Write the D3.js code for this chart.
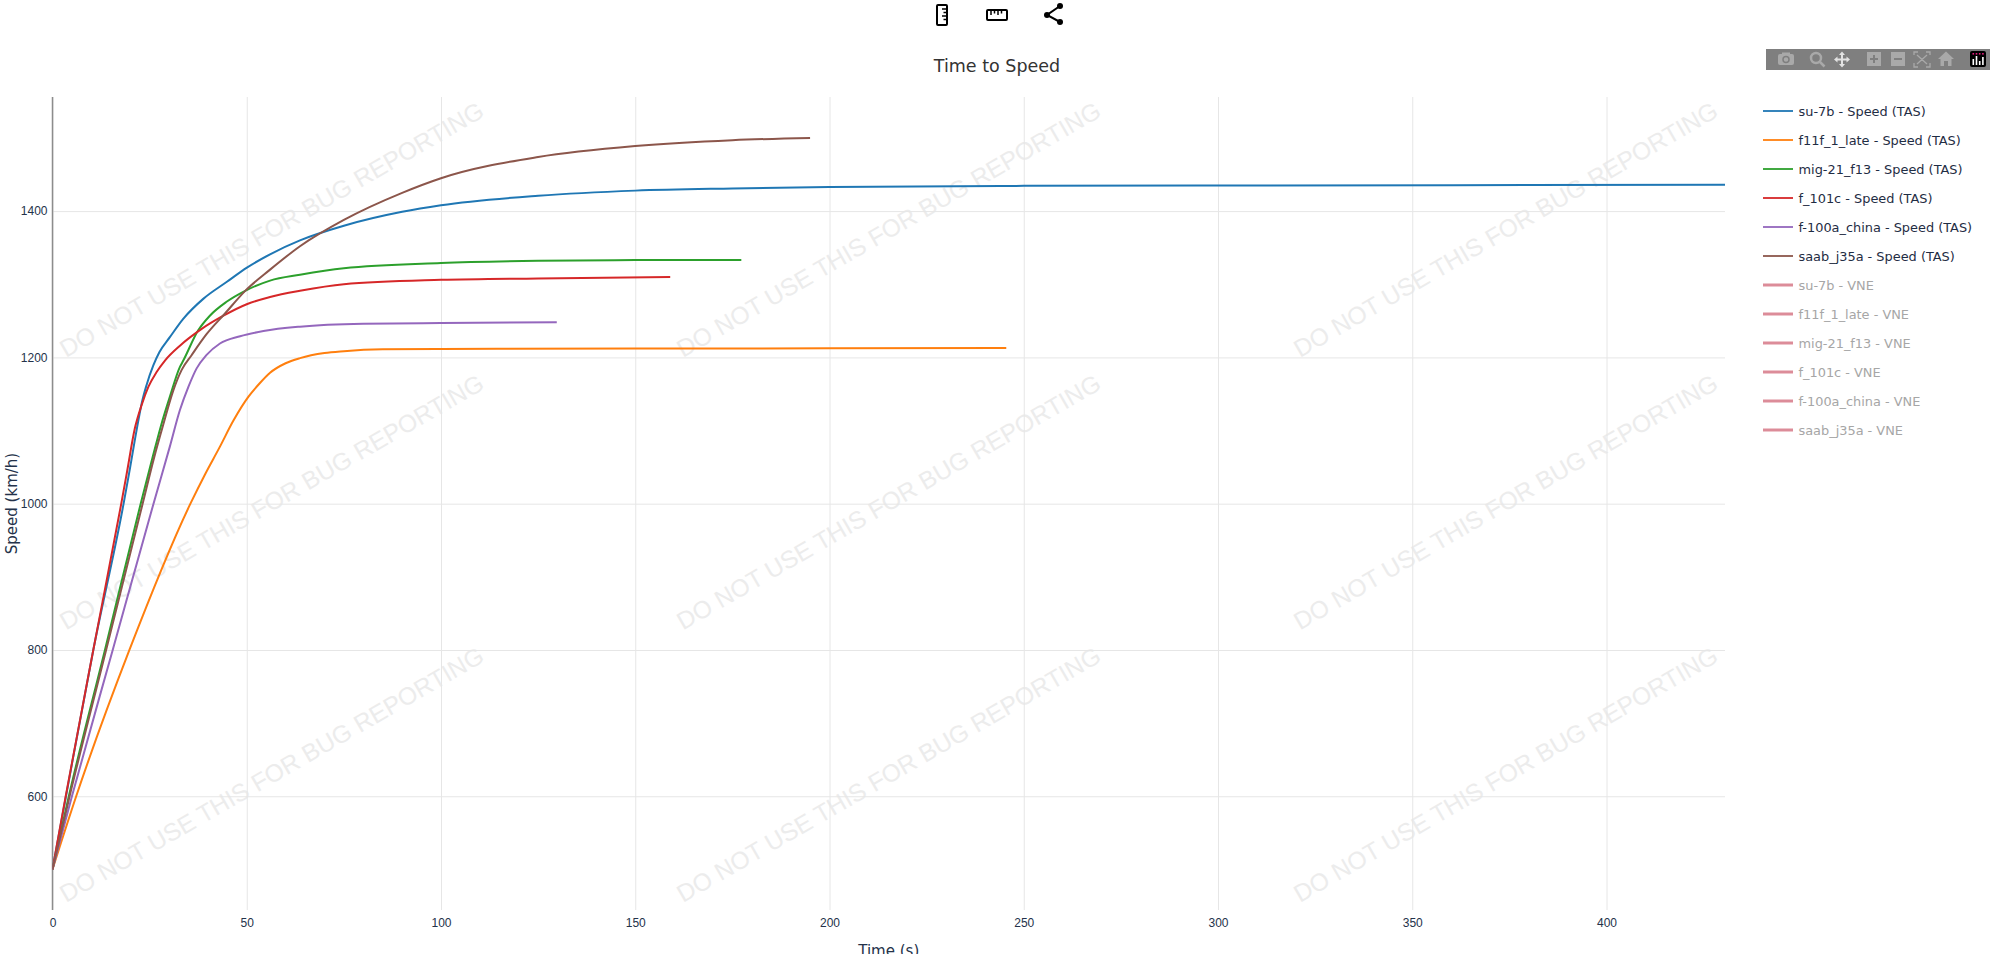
<!DOCTYPE html>
<html>
<head>
<meta charset="utf-8">
<title>Time to Speed</title>
<script src="https://cdn.jsdelivr.net/npm/d3@7/dist/d3.min.js"></script>
<style>
  html, body { margin: 0; padding: 0; background: #fff; overflow: hidden; }
  svg { display: block; font-family: "DejaVu Sans", Verdana, sans-serif; }
</style>
</head>
<body>
<div id="canvas"></div>
<script>
/*
 * Time to speed chart
 */

var xTicks = [0, 50, 100, 150, 200, 250, 300, 350, 400];
var yTicks = [600, 800, 1000, 1200, 1400];

var su7bTime  = [0, 3.4, 10.5, 18.3, 19.7, 21.8, 22.95, 24.2, 25.95, 27.5, 30.25, 33.7, 38.8, 44.8, 50.15, 56, 63.7, 75, 90, 100, 125, 150, 175, 200, 250, 300, 430.5];
var su7bSpeed = [500, 598, 800, 1000, 1041, 1105, 1137, 1162, 1189, 1207, 1228, 1253, 1280, 1303, 1323, 1341, 1360, 1380, 1399, 1408, 1421, 1428, 1431, 1433, 1434.5, 1435, 1436];

var f11fTime  = [0, 6.1, 19.8, 35.5, 39.25, 43.1, 46.5, 50.4, 53.4, 56, 60, 63.7, 70, 75, 85, 100, 150, 200, 245.5];
var f11fSpeed = [500, 600, 800, 1000, 1040, 1078, 1113, 1146, 1165, 1179, 1192, 1199, 1206, 1208.5, 1211, 1211.5, 1212, 1212.5, 1213];

var mig21Time  = [0, 4.2, 13.5, 22.7, 25.8, 28, 30.2, 32.8, 33.7, 37.5, 40.5, 44.8, 49.6, 56, 63.7, 75, 100, 125, 150, 177.3];
var mig21Speed = [500, 600, 800, 1000, 1064, 1108, 1146, 1187, 1196, 1237, 1257, 1276, 1291, 1305, 1313, 1322, 1329, 1332, 1333, 1333];

var f101Time  = [0, 3.4, 10.5, 17.7, 19.2, 21.2, 22.95, 24.7, 26.8, 29, 32.8, 38.4, 44, 50.15, 56, 63.7, 75, 100, 125, 159];
var f101Speed = [500, 600, 800, 1000, 1044, 1103, 1135, 1160, 1180, 1196, 1216, 1239, 1257, 1273, 1282.5, 1291, 1300, 1306, 1308, 1310];

var f100Time  = [0, 5, 15.5, 26, 30.2, 32.8, 35, 37.1, 39.6, 43.1, 48.3, 54.3, 63.7, 80, 100, 129.8];
var f100Speed = [500, 600, 800, 1000, 1078, 1128, 1160, 1185, 1203, 1219, 1229, 1236, 1242, 1246, 1247, 1248];

var saabTime  = [0, 4.4, 13.8, 23.2, 26.2, 28.5, 31.1, 33.25, 35.8, 39.7, 44.4, 49.6, 56, 63.7, 75, 90, 100, 125, 150, 175, 195];
var saabSpeed = [500, 600, 800, 1000, 1064, 1108, 1155, 1183, 1203, 1232, 1260, 1291, 1320, 1352, 1388, 1425, 1445, 1474, 1489, 1497, 1500];

var seriesNames = ["su-7b", "f11f_1_late", "mig-21_f13", "f_101c", "f-100a_china", "saab_j35a"];
var seriesTimes = [su7bTime, f11fTime, mig21Time, f101Time, f100Time, saabTime];
var seriesSpeeds = [su7bSpeed, f11fSpeed, mig21Speed, f101Speed, f100Speed, saabSpeed];
var seriesColors = ["#1f77b4", "#ff7f0e", "#2ca02c", "#d62728", "#9467bd", "#8c564b"];

var WIDTH = 2009, HEIGHT = 954;
var plot = { left: 52.5, right: 1725, top: 97, bottom: 910 };
var TEXT_COLOR = "#24324a";
var WATERMARK = "DO NOT USE THIS FOR BUG REPORTING";

var svg = d3.select("#canvas").append("svg").attr("width", WIDTH).attr("height", HEIGHT);

var x = d3.scaleLinear().domain([0, 430.5]).range([plot.left, plot.right]);
var y = d3.scaleLinear().domain([444.5, 1556]).range([plot.bottom, plot.top]);

/*
 * Grid and tick labels
 */
function drawAxes(){
  var xAxis = d3.axisBottom(x).tickValues(xTicks).tickFormat(d3.format("d"))
    .tickSize(-(plot.bottom - plot.top)).tickPadding(8);
  var yAxis = d3.axisLeft(y).tickValues(yTicks).tickFormat(d3.format("d"))
    .tickSize(-(plot.right - plot.left)).tickPadding(5);

  var gx = svg.append("g").attr("transform", "translate(0," + plot.bottom + ")").call(xAxis);
  var gy = svg.append("g").attr("transform", "translate(" + plot.left + ",0)").call(yAxis);

  [gx, gy].forEach(function(g){
    g.select(".domain").remove();
    g.selectAll("line").style("stroke", "#e6e6e6").style("stroke-width", 1);
    g.selectAll("text").style("font-size", "12px").style("fill", TEXT_COLOR);
  });

  // the zero line on the left
  svg.append("line").attr("x1", plot.left).attr("x2", plot.left)
    .attr("y1", plot.top).attr("y2", plot.bottom)
    .style("stroke", "#8c8c8c").style("stroke-width", 1.5);

  svg.append("text").attr("x", (plot.left + plot.right) / 2).attr("y", 956)
    .attr("text-anchor", "middle").style("font-size", "15px").style("fill", TEXT_COLOR)
    .text("Time (s)");

  svg.append("text").attr("transform", "translate(17," + ((plot.top + plot.bottom) / 2) + ") rotate(-90)")
    .attr("text-anchor", "middle").style("font-size", "15px").style("fill", TEXT_COLOR)
    .text("Speed (km/h)");

  svg.append("text").attr("x", 997).attr("y", 72)
    .attr("text-anchor", "middle").style("font-size", "17.5px").style("fill", "#333")
    .text("Time to Speed");
}

/*
 * Repeat the watermark in a 3x3 pattern
 */
function drawWatermark(){
  for(var row = 0; row < 3; row++){
    for(var col = 0; col < 3; col++){
      svg.append("text")
        .attr("transform", "translate(" + (66 + col * 617) + "," + (358 + row * 272.5) + ") rotate(-30)")
        .style("font-family", "'Liberation Sans', Arial, sans-serif")
        .style("font-size", "24.5px")
        .style("fill", "#ececec")
        .text(WATERMARK);
    }
  }
}

function drawLines(){
  var defs = svg.append("defs");
  defs.append("clipPath").attr("id", "plot-clip").append("rect")
    .attr("x", plot.left).attr("y", plot.top)
    .attr("width", plot.right - plot.left).attr("height", plot.bottom - plot.top);

  var line = d3.line()
    .x(function(d){ return x(d[0]); })
    .y(function(d){ return y(d[1]); })
    .curve(d3.curveMonotoneX);

  var g = svg.append("g").attr("clip-path", "url(#plot-clip)");
  for(var i = 0; i < seriesNames.length; i++){
    var points = d3.zip(seriesTimes[i], seriesSpeeds[i]);
    g.append("path").datum(points).attr("d", line)
      .style("fill", "none").style("stroke", seriesColors[i]).style("stroke-width", 2);
  }
}

function drawLegend(){
  var entries = [];
  seriesNames.forEach(function(n, i){
    entries.push({ label: n + " - Speed (TAS)", color: seriesColors[i], width: 2, hidden: false });
  });
  seriesNames.forEach(function(n){
    entries.push({ label: n + " - VNE", color: "#dc8c99", width: 3, hidden: true });
  });

  var rows = svg.append("g").selectAll("g").data(entries).enter().append("g")
    .attr("transform", function(d, i){ return "translate(1763," + (111 + i * 29) + ")"; });

  rows.append("line").attr("x1", 0).attr("x2", 30)
    .style("stroke", function(d){ return d.color; })
    .style("stroke-width", function(d){ return d.width; })
    .style("stroke-opacity", function(d){ return d.hidden ? 1 : 0.9; });

  rows.append("text").attr("x", 35.5).attr("y", 4.5)
    .style("font-size", "12.9px")
    .style("fill", function(d){ return d.hidden ? "#a6a6a6" : "#1f2d44"; })
    .text(function(d){ return d.label; });
}

/*
 * The grey plotly toolbar
 */
function drawModebar(){
  var bar = svg.append("g");
  var iconColor = "#a9a9a9";
  bar.append("rect").attr("x", 1766).attr("y", 49).attr("width", 224).attr("height", 21).style("fill", "#7f7f7f");

  // camera
  bar.append("rect").attr("x", 1778).attr("y", 54).attr("width", 16).attr("height", 11).attr("rx", 2).style("fill", iconColor);
  bar.append("rect").attr("x", 1782).attr("y", 52.5).attr("width", 8).attr("height", 3).style("fill", iconColor);
  bar.append("circle").attr("cx", 1786).attr("cy", 59.5).attr("r", 3).style("fill", "none").style("stroke", "#7f7f7f").style("stroke-width", 1.5);

  // zoom
  bar.append("circle").attr("cx", 1816).attr("cy", 58).attr("r", 5).style("fill", "none").style("stroke", iconColor).style("stroke-width", 2.5);
  bar.append("line").attr("x1", 1820).attr("y1", 62).attr("x2", 1824.5).attr("y2", 66.5).style("stroke", iconColor).style("stroke-width", 2.5);

  // pan
  bar.append("path").attr("d", "M1842,51.5 L1845,55 H1843 V58.5 H1846.5 V56.5 L1850,59.5 L1846.5,62.5 V60.5 H1843 V64 H1845 L1842,67.5 L1839,64 H1841 V60.5 H1837.5 V62.5 L1834,59.5 L1837.5,56.5 V58.5 H1841 V55 H1839 Z").style("fill", "#e2e2e2");

  // zoom in, zoom out
  bar.append("rect").attr("x", 1867).attr("y", 52).attr("width", 14).attr("height", 14).style("fill", iconColor);
  bar.append("path").attr("d", "M1870,59 H1878 M1874,55 V63").style("stroke", "#7f7f7f").style("stroke-width", 2);
  bar.append("rect").attr("x", 1891).attr("y", 52).attr("width", 14).attr("height", 14).style("fill", iconColor);
  bar.append("path").attr("d", "M1894,59 H1902").style("stroke", "#7f7f7f").style("stroke-width", 2);

  // autoscale
  bar.append("path").attr("d", "M1914,55 V52 H1918 M1926,52 H1930 V55 M1930,63 V67 H1926 M1918,67 H1914 V63 M1917,55 L1927,64 M1927,55 L1917,64")
    .style("fill", "none").style("stroke", iconColor).style("stroke-width", 1.3);

  // home
  bar.append("path").attr("d", "M1946,51.5 L1954,59 H1951.5 V66 H1948 V61 H1944 V66 H1940.5 V59 H1938 Z").style("fill", iconColor);

  // plotly logo
  bar.append("rect").attr("x", 1970).attr("y", 51).attr("width", 16).attr("height", 16).attr("rx", 2).style("fill", "#000");
  var colHeights = [6, 9, 4, 8];
  colHeights.forEach(function(h, i){
    bar.append("rect").attr("x", 1972.5 + i * 3.2).attr("y", 65 - h).attr("width", 1.6).attr("height", h).style("fill", "#fff");
    bar.append("rect").attr("x", 1972.5 + i * 3.2).attr("y", 53).attr("width", 1.6).attr("height", 1.6).style("fill", "#e6197d");
  });
}

/*
 * Icons above the chart
 */
function drawTopIcons(){
  var g = svg.append("g").style("fill", "none").style("stroke", "#000").style("stroke-width", 2);

  // vertical ruler
  g.append("rect").attr("x", 937).attr("y", 5).attr("width", 10).attr("height", 20).attr("rx", 1);
  g.append("path").attr("d", "M942,9 H946 M943.5,12.5 H946 M942,16 H946 M943.5,19.5 H946").style("stroke-width", 1.5);

  // horizontal ruler
  g.append("rect").attr("x", 987).attr("y", 10).attr("width", 20).attr("height", 10).attr("rx", 1);
  g.append("path").attr("d", "M991,11 V15 M994.5,11 V13.5 M998,11 V15 M1001.5,11 V13.5").style("stroke-width", 1.5);

  // share
  g.append("path").attr("d", "M1060,6 L1047,15 L1060,22");
  [[1060, 6], [1047, 15], [1060, 22]].forEach(function(p){
    g.append("circle").attr("cx", p[0]).attr("cy", p[1]).attr("r", 3).style("fill", "#000").style("stroke", "none");
  });
}

drawWatermark();
drawAxes();
drawLines();
drawLegend();
drawModebar();
drawTopIcons();
</script>
</body>
</html>
